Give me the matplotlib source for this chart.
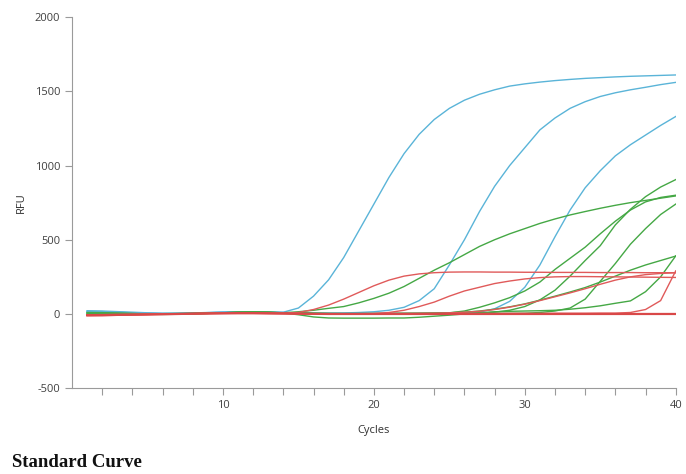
import matplotlib.pyplot as plt

plt.rcParams['font.family'] = ['Open Sans', 'DejaVu Sans']
plt.rcParams['axes.unicode_minus'] = False

# cycle numbers
cycles = list(range(1, 41))

# blue traces
blue_1 = [22, 20, 16, 12, 8, 5, 5, 7, 10, 13,
          15, 15, 13, 12, 40, 120, 230, 380, 560, 740,
          920, 1080, 1210, 1310, 1385, 1440, 1480, 1510, 1535, 1550,
          1562, 1572, 1580, 1587, 1592, 1597, 1601, 1604, 1607, 1610]
blue_2 = [18, 16, 12, 8, 5, 3, 4, 6, 9, 12,
          14, 14, 12, 10, 8, 6, 6, 7, 10, 15,
          25, 45, 90, 170, 330, 500, 690, 860, 1000, 1120,
          1240, 1320, 1385, 1430, 1465, 1490, 1510, 1527, 1545, 1560]
blue_3 = [15, 12, 9, 6, 4, 3, 4, 6, 8, 11,
          13, 13, 11, 9, 7, 5, 4, 4, 4, 4,
          4, 4, 4, 4, 4, 5, 12, 35, 85, 180,
          330, 520, 700, 850, 965, 1065, 1140, 1205, 1270, 1330]

# green traces
green_1 = [5, 4, 2, 0, -2, -3, -2, 0, 4, 8,
           12, 14, 12, 8, 15, 25, 38, 50, 75, 105,
           140, 185, 240, 295, 345, 400, 455, 500, 540, 575,
           610, 640, 667, 690, 712, 732, 750, 765, 780, 795]
green_2 = [-3, -3, -2, -1, 0, 1, 2, 3, 5, 7,
           9, 10, 9, 7, 5, 3, 2, 2, 2, 2,
           3, 3, 4, 5, 8, 20, 45, 75, 110, 155,
           215, 300, 375, 450, 540, 625, 700, 755, 785, 800]
green_3 = [0, 0, 1, 1, 1, 2, 3, 4, 6, 8,
           10, 11, 10, 8, 6, 4, 3, 3, 3, 3,
           3, 3, 3, 4, 4, 4, 5, 12, 25, 50,
           95, 160, 255, 360, 460, 600, 705, 790, 855, 905]
green_4 = [8, 7, 5, 3, 1, 0, 1, 3, 5, 8,
           10, 11, 10, 8, 6, 4, 3, 2, 2, 2,
           2, 2, 2, 3, 3, 3, 3, 4, 4, 5,
           10, 20, 40, 100, 220, 340, 470, 575, 670, 740]
green_5 = [-4, -4, -3, -2, -1, 0, 1, 2, 4, 6,
           8, 9, 8, 6, 4, 3, 2, 2, 2, 3,
           3, 4, 4, 5, 8, 12, 20, 32, 48, 68,
           93, 120, 148, 178, 215, 255, 295, 330, 360, 390]
green_6 = [10, 9, 6, 3, 0, -2, -1, 1, 4, 8,
           12, 14, 12, 6, -5, -20, -27, -28, -28, -28,
           -27, -27, -22, -15, -8, 0, 8, 15, 18, 20,
           22, 25, 32, 42, 55, 72, 88, 150, 250, 391]

# red traces
red_0 = [-8, -8, -6, -5, -4, -2, 0, 2, 3, 4,
         5, 5, 4, 3, 2, 1, 0, 0, 0, 0,
         0, 0, 0, 0, 0, 0, 0, 0, 0, 0,
         0, 0, 0, 0, 0, 0, 0, 0, 0, 0]
red_1 = [-10, -9, -7, -5, -3, -1, 1, 3, 5, 6,
         7, 7, 6, 6, 10, 30, 60, 100, 145, 190,
         228, 255, 270, 278, 282, 283, 283, 282, 282, 281,
         281, 280, 280, 280, 279, 279, 279, 278, 278, 278]
red_2 = [-6, -6, -5, -4, -2, 0, 2, 3, 4, 5,
         6, 6, 5, 4, 3, 2, 2, 2, 2, 3,
         10, 25, 50, 80, 120, 155, 180, 205, 222, 236,
         245, 250, 252, 252, 251, 250, 249, 248, 247, 246]
red_3 = [-12, -11, -9, -6, -4, -2, 0, 2, 3, 4,
         5, 5, 4, 3, 2, 1, 1, 1, 2, 2,
         3, 3, 4, 5, 8, 12, 18, 30, 46, 66,
         90, 116, 142, 170, 200, 228, 250, 265, 273, 278]
red_4 = [-5, -4, -3, -2, -1, 0, 1, 2, 3, 4,
         4, 4, 3, 2, 1, 0, 0, 0, 0, 1,
         1, 1, 2, 2, 2, 3, 3, 3, 4, 4,
         4, 5, 5, 5, 6, 6, 10, 30, 90, 290]

blue_traces = [blue_1, blue_2, blue_3]
green_traces = [green_1, green_2, green_3, green_4, green_5, green_6]
red_traces = [red_1, red_2, red_3, red_4]

fig = plt.figure(figsize=(6.86, 4.74), dpi=100)
ax = fig.add_axes([0.105, 0.181, 0.88, 0.783])

for trace in blue_traces:
    ax.plot(cycles, trace, color='#5ab4d8', linewidth=1.0)
for trace in green_traces:
    ax.plot(cycles, trace, color='#45a845', linewidth=1.0)
for trace in red_traces:
    ax.plot(cycles, trace, color='#e05a5a', linewidth=1.0)
# the flat red line looks heavier in the original
ax.plot(cycles, red_0, color='#d94848', linewidth=1.6)

ax.set_xlim(0, 40)
ax.set_ylim(-500, 2000)
ax.set_xticks(range(2, 41, 2))
ax.set_xticklabels([str(c) if c % 10 == 0 else '' for c in range(2, 41, 2)])
ax.set_yticks(range(-500, 2001, 500))

for side in ['top', 'right']:
    ax.spines[side].set_visible(False)
for side in ['left', 'bottom']:
    ax.spines[side].set_color('#9a9a9a')
ax.tick_params(colors='#9a9a9a', labelcolor='#404040', labelsize=8, length=5)

ax.set_xlabel('Cycles', fontsize=8, color='#303030', labelpad=10)
ax.set_ylabel('RFU', fontsize=8, color='#303030', labelpad=6)

fig.text(0.017, 0.015, 'Standard Curve', family='Liberation Serif',
         fontweight='bold', fontsize=13.5, color='#111111')

fig.savefig('out.png', dpi=100)
